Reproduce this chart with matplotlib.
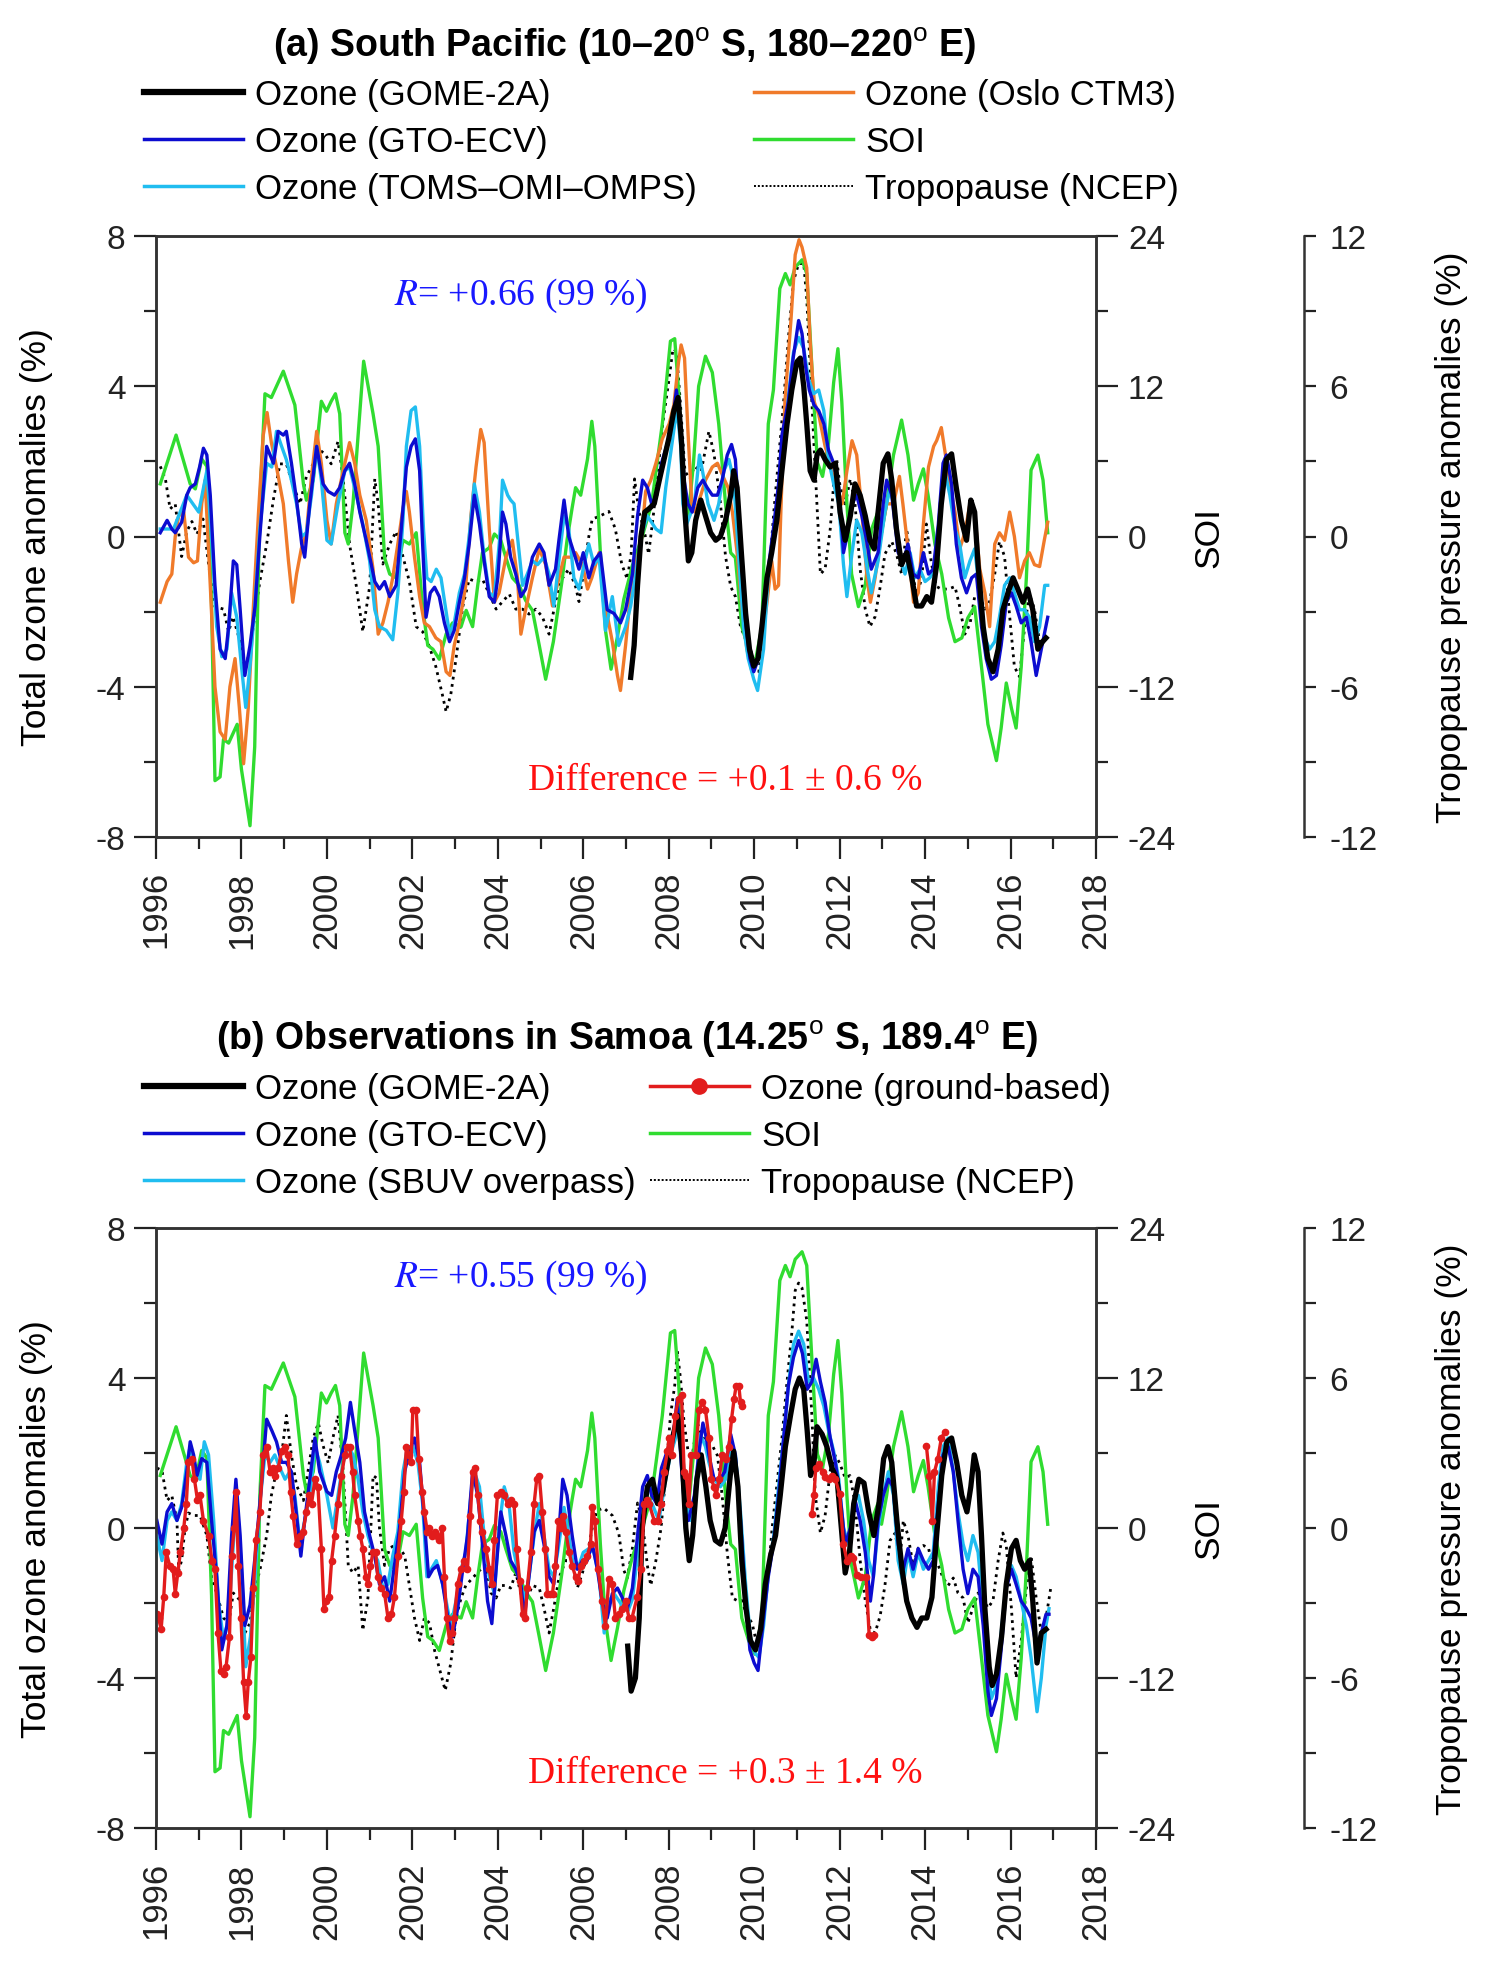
import matplotlib
matplotlib.use("Agg")
import matplotlib.pyplot as plt
import numpy as np
from matplotlib.lines import Line2D
from matplotlib.ticker import MultipleLocator

plt.rcParams["font.family"] = ["Liberation Sans", "DejaVu Sans"]
plt.rcParams["axes.unicode_minus"] = False
plt.rcParams["mathtext.fontset"] = "custom"
plt.rcParams["mathtext.rm"] = "Liberation Sans"
plt.rcParams["mathtext.bf"] = "Liberation Sans:bold"

# ---------------------------------------------------------------- data
# (decimal year, value); ozone in %, SOI in index units, tropopause in %
SOI = [
    (1996.10, 4.2), (1996.47, 8.1), (1996.80, 4.2), (1996.92, 3.8), (1997.07, 6.2), (1997.19, 5.6),
    (1997.30, -5.4), (1997.38, -19.5), (1997.50, -19.2), (1997.58, -16.2), (1997.70, -16.5),
    (1997.90, -15.0), (1998.00, -18.6), (1998.20, -23.1), (1998.31, -16.8), (1998.43, 2.6),
    (1998.55, 11.4), (1998.70, 11.1), (1998.98, 13.2), (1999.25, 10.5), (1999.45, 4.2), (1999.52, 2.9),
    (1999.68, 4.5), (1999.87, 10.8), (1999.99, 10.0), (2000.10, 10.8), (2000.20, 11.4), (2000.30, 9.8),
    (2000.42, 0.3), (2000.50, -0.6), (2000.61, 2.6), (2000.86, 14.0), (2001.08, 9.8), (2001.20, 7.2),
    (2001.35, -1.7), (2001.47, -3.0), (2001.62, -3.3), (2001.78, -0.3), (2001.93, -0.6), (2002.09, 0.3),
    (2002.24, -5.6), (2002.36, -8.7), (2002.48, -9.0), (2002.63, -9.8), (2002.79, -7.8), (2002.94, -6.9),
    (2003.14, -7.2), (2003.26, -5.9), (2003.41, -7.2), (2003.53, -3.9), (2003.64, -1.3), (2003.80, -0.9),
    (2003.92, 0.2), (2004.07, -0.3), (2004.19, -1.7), (2004.34, -3.3), (2004.50, -3.9), (2004.65, -5.1),
    (2004.81, -5.9), (2004.97, -8.7), (2005.12, -11.4), (2005.30, -8.4), (2005.50, -3.6), (2005.62, -0.3),
    (2005.74, 2.3), (2005.82, 3.9), (2005.94, 3.3), (2006.10, 6.2), (2006.20, 9.2), (2006.27, 7.2),
    (2006.40, -1.3), (2006.52, -7.5), (2006.65, -10.6), (2006.80, -8.0), (2006.95, -5.0), (2007.15, -2.3),
    (2007.38, 0.0), (2007.60, 2.6), (2007.85, 9.0), (2008.04, 15.6), (2008.14, 15.8), (2008.23, 11.7),
    (2008.35, 3.9), (2008.46, 1.6), (2008.58, 5.9), (2008.70, 12.0), (2008.86, 14.4), (2009.02, 13.1),
    (2009.17, 9.0), (2009.33, 2.6), (2009.45, -1.3), (2009.56, -1.7), (2009.71, -7.2), (2009.87, -9.0),
    (2010.02, -10.1), (2010.18, -7.2), (2010.33, 9.0), (2010.45, 11.7), (2010.60, 19.8), (2010.73, 21.0),
    (2010.84, 20.1), (2010.96, 21.5), (2011.12, 22.1), (2011.23, 21.0), (2011.37, 12.3), (2011.48, 5.9),
    (2011.60, 4.8), (2011.74, 7.5), (2011.86, 12.3), (2011.96, 15.0), (2012.05, 10.8), (2012.17, 2.6),
    (2012.28, -3.0), (2012.44, -5.6), (2012.60, -3.9), (2012.75, 0.6), (2012.90, 2.0), (2012.98, 0.3),
    (2013.10, 2.6), (2013.26, 6.5), (2013.45, 9.3), (2013.60, 6.5), (2013.73, 2.9), (2013.84, 4.2),
    (2013.96, 5.4), (2014.07, 3.3), (2014.23, -0.6), (2014.39, -3.0), (2014.55, -6.5), (2014.70, -8.4),
    (2014.86, -8.1), (2015.00, -6.5), (2015.16, -5.6), (2015.32, -10.4), (2015.47, -15.0), (2015.67, -17.9),
    (2015.78, -15.3), (2015.90, -11.7), (2016.02, -13.7), (2016.13, -15.3), (2016.25, -10.4), (2016.37, -3.3),
    (2016.48, 5.3), (2016.64, 6.5), (2016.76, 4.5), (2016.87, 0.3),
]

TROP_A = [
    (1996.10, 2.8), (1996.22, 2.3), (1996.33, 1.1), (1996.45, 1.3), (1996.60, -0.8), (1996.72, 0.2),
    (1996.84, 0.6), (1996.96, 0.1), (1997.10, 0.7), (1997.23, -1.1), (1997.38, -2.8), (1997.58, -2.9),
    (1997.70, -3.8), (1997.80, -3.2), (1997.97, -4.2), (1998.08, -5.4), (1998.20, -4.5), (1998.32, -3.1),
    (1998.43, -1.8), (1998.59, -0.3), (1998.75, 1.5), (1998.90, 2.9), (1999.05, 2.9), (1999.20, 2.1),
    (1999.37, 1.3), (1999.52, 2.4), (1999.68, 2.9), (1999.80, 3.5), (1999.95, 3.3), (2000.10, 2.9),
    (2000.26, 3.8), (2000.38, 2.3), (2000.53, -0.3), (2000.69, -2.0), (2000.84, -3.8), (2001.00, -2.0),
    (2001.12, 2.3), (2001.20, 1.3), (2001.31, -1.1), (2001.47, -0.3), (2001.62, 0.2), (2001.78, -0.8),
    (2001.93, -1.8), (2002.09, -3.6), (2002.24, -3.8), (2002.40, -4.4), (2002.55, -5.2), (2002.70, -6.3),
    (2002.79, -7.0), (2002.90, -6.3), (2003.02, -4.9), (2003.18, -2.8), (2003.33, -1.7), (2003.49, -1.8),
    (2003.64, -1.7), (2003.80, -2.3), (2003.96, -2.9), (2004.11, -2.6), (2004.27, -2.3), (2004.42, -2.9),
    (2004.58, -2.9), (2004.73, -3.1), (2004.89, -2.9), (2005.04, -3.2), (2005.20, -3.9), (2005.35, -2.6),
    (2005.50, -1.7), (2005.66, -1.3), (2005.82, -2.0), (2005.90, -2.6), (2006.00, -1.5), (2006.13, 0.0),
    (2006.21, 0.7), (2006.37, 0.8), (2006.60, 1.0), (2006.75, 0.3), (2006.90, -1.1), (2007.03, -1.7),
    (2007.12, -0.7), (2007.20, 2.3), (2007.30, 1.0), (2007.42, 0.3), (2007.53, -0.7), (2007.65, 1.0),
    (2007.86, 4.5), (2008.00, 6.2), (2008.10, 7.5), (2008.18, 7.4), (2008.27, 5.4), (2008.38, 2.6),
    (2008.50, 2.3), (2008.60, 2.8), (2008.76, 2.6), (2008.94, 4.2), (2009.06, 3.3), (2009.20, 1.5),
    (2009.33, -0.8), (2009.45, -2.0), (2009.56, -2.4), (2009.68, -3.6), (2009.80, -4.1), (2009.91, -4.5),
    (2010.03, -5.2), (2010.11, -5.4), (2010.22, -3.6), (2010.34, -1.7), (2010.46, 1.0), (2010.57, 3.1),
    (2010.69, 5.4), (2010.81, 8.1), (2010.92, 10.2), (2011.04, 10.9), (2011.16, 10.9), (2011.23, 9.5),
    (2011.35, 5.4), (2011.47, 1.3), (2011.55, -1.5), (2011.66, -1.3), (2011.78, 0.3), (2011.86, 2.1),
    (2011.93, 3.1), (2012.01, 2.0), (2012.13, 1.3), (2012.25, 2.3), (2012.36, 1.3), (2012.48, -1.3),
    (2012.60, -2.9), (2012.71, -3.6), (2012.83, -3.2), (2012.95, -2.0), (2013.06, -0.7), (2013.22, -0.2),
    (2013.33, -0.7), (2013.45, -1.5), (2013.57, 0.3), (2013.68, -1.3), (2013.80, -2.3), (2013.92, -1.7),
    (2014.03, 0.5), (2014.15, -1.1), (2014.27, -2.0), (2014.38, -2.1), (2014.54, -2.1), (2014.70, -2.0),
    (2014.81, -2.8), (2014.93, -3.9), (2015.05, -3.5), (2015.16, -2.4), (2015.28, -2.4), (2015.40, -2.9),
    (2015.51, -2.6), (2015.63, -1.5), (2015.74, -0.2), (2015.86, -0.8), (2015.98, -3.2), (2016.09, -5.2),
    (2016.21, -5.6), (2016.33, -3.6), (2016.44, -2.3), (2016.56, -2.9), (2016.68, -4.2), (2016.79, -4.1),
]

TROP_B = [
    (1996.02, 2.4), (1996.14, 2.3), (1996.26, 1.1), (1996.37, 1.3), (1996.49, 0.3), (1996.53, -1.7),
    (1996.60, -1.3), (1996.68, 0.0), (1996.76, 0.6), (1996.88, 0.5), (1997.03, 0.5), (1997.19, -0.3),
    (1997.30, -2.0), (1997.42, -2.6), (1997.58, -3.6), (1997.70, -3.8), (1997.81, -2.6), (1997.97, -2.9),
    (1998.08, -4.2), (1998.20, -3.8), (1998.32, -2.4), (1998.43, -1.7), (1998.59, -0.3), (1998.70, 1.3),
    (1998.82, 2.3), (1998.94, 2.9), (1999.05, 4.5), (1999.17, 2.9), (1999.29, 1.7), (1999.45, 1.1),
    (1999.56, 2.3), (1999.68, 3.6), (1999.80, 4.2), (1999.91, 3.3), (2000.03, 2.6), (2000.14, 3.6),
    (2000.26, 4.5), (2000.38, 2.3), (2000.50, -1.5), (2000.61, -1.8), (2000.73, -1.5), (2000.84, -4.1),
    (2000.96, -2.8), (2001.08, 2.1), (2001.16, 2.0), (2001.23, 0.0), (2001.35, -1.5), (2001.47, -0.8),
    (2001.58, -0.7), (2001.70, -0.8), (2001.82, -1.1), (2001.93, -2.3), (2002.05, -3.6), (2002.17, -4.5),
    (2002.28, -3.6), (2002.40, -3.8), (2002.52, -4.9), (2002.63, -5.6), (2002.77, -6.5), (2002.90, -5.4),
    (2003.02, -3.6), (2003.14, -2.8), (2003.25, -2.3), (2003.41, -2.0), (2003.57, -1.7), (2003.72, -1.5),
    (2003.84, -2.6), (2003.96, -2.8), (2004.07, -2.3), (2004.19, -2.3), (2004.30, -2.4), (2004.42, -1.8),
    (2004.58, -2.9), (2004.69, -2.8), (2004.81, -2.3), (2004.97, -2.4), (2005.08, -3.2), (2005.20, -4.2),
    (2005.31, -3.2), (2005.43, -2.0), (2005.59, -1.3), (2005.74, -1.3), (2005.86, -2.4), (2005.98, -1.8),
    (2006.10, -1.0), (2006.21, 0.0), (2006.32, 0.7), (2006.48, 0.8), (2006.68, 0.5), (2006.83, -0.2),
    (2006.95, -1.7), (2007.03, -2.0), (2007.15, -0.8), (2007.27, 1.0), (2007.38, 0.3), (2007.50, -1.5),
    (2007.58, -2.3), (2007.70, -1.3), (2007.82, 0.0), (2007.93, 2.1), (2008.04, 4.5), (2008.14, 5.7),
    (2008.20, 7.1), (2008.28, 5.9), (2008.36, 4.2), (2008.45, 3.1), (2008.55, 2.9), (2008.67, 4.2),
    (2008.80, 3.6), (2008.90, 3.5), (2009.02, 3.3), (2009.14, 2.9), (2009.25, 1.3), (2009.37, -1.0),
    (2009.49, -2.8), (2009.60, -2.9), (2009.71, -2.9), (2009.83, -3.5), (2009.95, -3.8), (2010.07, -4.7),
    (2010.18, -3.9), (2010.30, -2.4), (2010.42, 0.0), (2010.53, 1.7), (2010.65, 3.6), (2010.76, 5.7),
    (2010.88, 7.8), (2010.96, 9.5), (2011.04, 9.8), (2011.12, 9.6), (2011.23, 8.3), (2011.35, 4.5),
    (2011.43, 1.3), (2011.55, -0.2), (2011.66, 0.5), (2011.78, 2.3), (2011.90, 2.9), (2012.00, 2.6),
    (2012.13, 2.0), (2012.24, 2.1), (2012.36, 1.0), (2012.48, -1.3), (2012.60, -2.9), (2012.72, -4.1),
    (2012.83, -4.2), (2012.95, -3.5), (2013.06, -2.3), (2013.18, -0.5), (2013.30, -0.2), (2013.41, -1.3),
    (2013.49, 0.3), (2013.60, -0.3), (2013.72, -1.5), (2013.84, -0.8), (2013.96, -0.7), (2014.08, -0.8),
    (2014.19, -1.7), (2014.31, -1.5), (2014.42, -2.0), (2014.54, -2.3), (2014.66, -2.0), (2014.77, -2.6),
    (2014.89, -2.8), (2015.00, -3.8), (2015.12, -3.2), (2015.24, -2.6), (2015.35, -2.8), (2015.47, -3.2),
    (2015.59, -2.9), (2015.71, -1.3), (2015.82, -0.2), (2015.90, -0.7), (2016.02, -3.2), (2016.13, -6.0),
    (2016.25, -4.5), (2016.37, -2.4), (2016.48, -1.1), (2016.60, -2.8), (2016.72, -4.2), (2016.83, -3.6),
    (2016.95, -2.3),
]

OSLO_A = [
    (1996.10, -1.75), (1996.26, -1.2), (1996.37, -1.0), (1996.45, 0.0), (1996.53, 0.55), (1996.65, 0.65),
    (1996.76, -0.55), (1996.88, -0.7), (1996.97, -0.65), (1997.07, 0.87), (1997.15, 1.5), (1997.27, -1.3),
    (1997.38, -4.0), (1997.50, -5.2), (1997.62, -5.4), (1997.73, -4.0), (1997.85, -3.25), (1997.95, -4.55),
    (1998.05, -6.05), (1998.16, -4.55), (1998.28, -1.85), (1998.40, 0.65), (1998.51, 2.7), (1998.60, 3.3),
    (1998.70, 2.5), (1998.82, 1.85), (1998.98, 0.87), (1999.10, -0.65), (1999.20, -1.75), (1999.29, -1.0),
    (1999.40, -0.33), (1999.52, 0.1), (1999.64, 1.6), (1999.76, 2.8), (1999.87, 1.95), (2000.00, 0.43),
    (2000.10, -0.2), (2000.22, 0.87), (2000.38, 1.75), (2000.53, 2.5), (2000.65, 1.95), (2000.77, 1.1),
    (2000.92, 0.43), (2001.08, -0.87), (2001.20, -2.6), (2001.31, -2.3), (2001.43, -1.75), (2001.54, -1.1),
    (2001.66, -0.2), (2001.78, 0.75), (2001.86, 1.2), (2001.93, 0.65), (2002.05, -0.55), (2002.17, -1.6),
    (2002.28, -2.3), (2002.40, -2.4), (2002.55, -2.7), (2002.67, -2.8), (2002.79, -3.6), (2002.88, -3.7),
    (2002.98, -2.9), (2003.10, -2.3), (2003.25, -1.3), (2003.37, 0.55), (2003.49, 1.85), (2003.60, 2.85),
    (2003.68, 2.5), (2003.80, 0.2), (2003.92, -1.75), (2004.03, -1.5), (2004.19, -0.55), (2004.34, -0.1),
    (2004.46, -1.1), (2004.54, -2.6), (2004.65, -1.95), (2004.81, -1.1), (2004.97, -0.33), (2005.12, -0.75),
    (2005.28, -1.85), (2005.39, -1.3), (2005.55, -0.55), (2005.70, -0.55), (2005.82, -0.43), (2005.98, -0.75),
    (2006.10, -1.4), (2006.20, -1.1), (2006.37, -0.43), (2006.52, -1.85), (2006.68, -2.8), (2006.80, -3.7),
    (2006.87, -4.1), (2006.99, -2.9), (2007.14, -1.1), (2007.35, -0.2), (2007.46, 1.2), (2007.58, 1.5),
    (2007.70, 1.95), (2007.85, 2.6), (2008.01, 3.0), (2008.12, 3.5), (2008.23, 4.65), (2008.29, 5.1),
    (2008.37, 4.75), (2008.45, 2.8), (2008.54, 0.87), (2008.62, 0.65), (2008.75, 1.1), (2008.86, 1.5),
    (2009.02, 1.85), (2009.14, 1.95), (2009.27, 1.6), (2009.39, 1.3), (2009.49, 0.65), (2009.60, -0.43),
    (2009.71, -1.85), (2009.83, -3.0), (2009.95, -3.6), (2010.06, -3.35), (2010.18, -2.8), (2010.29, -1.85),
    (2010.41, -0.65), (2010.49, -1.4), (2010.57, -1.3), (2010.63, 0.87), (2010.72, 3.6), (2010.86, 5.75),
    (2010.96, 7.5), (2011.05, 7.9), (2011.12, 7.7), (2011.23, 7.15), (2011.31, 5.2), (2011.40, 3.6),
    (2011.51, 3.25), (2011.66, 2.4), (2011.78, 1.95), (2011.86, 1.5), (2011.94, 1.3), (2012.06, 0.87),
    (2012.17, 1.75), (2012.29, 2.55), (2012.40, 2.17), (2012.52, 0.65), (2012.64, -1.1), (2012.72, -1.75),
    (2012.83, -1.1), (2012.99, 0.2), (2013.10, 0.87), (2013.26, 0.87), (2013.40, 1.6), (2013.48, 0.87),
    (2013.60, -0.33), (2013.73, -1.75), (2013.84, -1.5), (2013.96, 0.33), (2014.08, 1.85), (2014.20, 2.4),
    (2014.27, 2.55), (2014.38, 2.9), (2014.46, 2.3), (2014.58, 1.4), (2014.70, 0.65), (2014.81, -0.33),
    (2014.93, 0.1), (2015.05, 0.87), (2015.16, 0.65), (2015.28, -0.87), (2015.40, -1.5), (2015.51, -2.4),
    (2015.63, -0.2), (2015.74, 0.1), (2015.86, -0.1), (2015.98, 0.65), (2016.09, 0.0), (2016.21, -1.1),
    (2016.33, -0.65), (2016.44, -0.43), (2016.56, -0.75), (2016.68, -0.8), (2016.79, -0.1), (2016.87, 0.38),
]

GTO_A = [
    (1996.10, 0.1), (1996.26, 0.43), (1996.37, 0.2), (1996.45, 0.1), (1996.60, 0.38), (1996.72, 1.1),
    (1996.80, 1.3), (1996.92, 1.4), (1997.02, 1.85), (1997.11, 2.35), (1997.19, 2.17), (1997.27, 1.1),
    (1997.38, -1.3), (1997.50, -3.0), (1997.62, -3.25), (1997.70, -2.4), (1997.81, -0.65), (1997.89, -0.75),
    (1997.97, -1.95), (1998.08, -3.7), (1998.20, -2.9), (1998.32, -1.85), (1998.43, 0.0), (1998.59, 2.4),
    (1998.67, 2.17), (1998.75, 1.95), (1998.86, 2.8), (1998.98, 2.7), (1999.05, 2.8), (1999.17, 1.95),
    (1999.29, 0.97), (1999.41, -0.2), (1999.48, -0.55), (1999.60, 0.87), (1999.76, 2.4), (1999.91, 1.4),
    (2000.03, 1.2), (2000.18, 1.1), (2000.30, 1.3), (2000.42, 1.75), (2000.53, 1.95), (2000.65, 1.4),
    (2000.77, 0.65), (2000.92, -0.1), (2001.04, -0.75), (2001.12, -1.2), (2001.23, -1.4), (2001.35, -1.2),
    (2001.47, -1.6), (2001.62, -1.3), (2001.74, 0.2), (2001.86, 1.85), (2001.97, 2.4), (2002.07, 2.6),
    (2002.17, 1.75), (2002.24, -0.2), (2002.32, -2.15), (2002.42, -1.5), (2002.52, -1.35), (2002.63, -1.6),
    (2002.75, -2.3), (2002.87, -2.8), (2002.98, -2.5), (2003.10, -1.75), (2003.22, -1.1), (2003.33, -0.2),
    (2003.45, 1.1), (2003.57, 0.33), (2003.68, -0.65), (2003.80, -1.6), (2003.92, -1.75), (2004.00, -1.1),
    (2004.11, 0.65), (2004.19, 0.33), (2004.30, -0.55), (2004.42, -1.0), (2004.54, -1.6), (2004.65, -1.4),
    (2004.81, -0.55), (2004.97, -0.2), (2005.08, -0.43), (2005.20, -1.3), (2005.35, -0.87), (2005.43, -0.1),
    (2005.55, 0.97), (2005.66, 0.0), (2005.78, -0.43), (2005.90, -0.87), (2006.00, -0.43), (2006.13, -1.1),
    (2006.25, -0.65), (2006.40, -0.43), (2006.56, -1.95), (2006.72, -2.05), (2006.87, -2.3), (2006.99, -1.95),
    (2007.15, -1.0), (2007.27, 0.55), (2007.39, 1.5), (2007.50, 1.3), (2007.60, 0.87), (2007.72, 1.1),
    (2007.83, 1.95), (2008.00, 2.6), (2008.12, 3.35), (2008.18, 3.9), (2008.27, 3.0), (2008.36, 1.5),
    (2008.45, 0.87), (2008.55, 0.65), (2008.68, 1.3), (2008.80, 1.5), (2008.90, 1.3), (2009.02, 1.1),
    (2009.14, 1.1), (2009.25, 1.5), (2009.37, 2.17), (2009.47, 2.45), (2009.56, 2.05), (2009.68, -0.2),
    (2009.80, -2.3), (2009.90, -3.25), (2009.99, -3.6), (2010.10, -3.25), (2010.20, -2.15), (2010.34, -0.75),
    (2010.45, 0.2), (2010.57, 1.4), (2010.65, 2.7), (2010.80, 3.6), (2010.90, 4.65), (2011.04, 5.75),
    (2011.12, 5.4), (2011.20, 4.55), (2011.29, 3.9), (2011.40, 3.5), (2011.51, 3.35), (2011.63, 3.0),
    (2011.74, 2.3), (2011.86, 1.95), (2011.98, 1.3), (2012.09, -0.43), (2012.17, 0.0), (2012.29, 0.87),
    (2012.40, 1.1), (2012.52, 0.55), (2012.63, -0.1), (2012.74, -0.87), (2012.90, -0.43), (2013.02, 0.87),
    (2013.10, 1.5), (2013.22, 1.1), (2013.37, -0.43), (2013.49, -0.65), (2013.60, -0.2), (2013.72, -1.0),
    (2013.84, -1.1), (2013.96, -0.43), (2014.08, -1.0), (2014.19, -0.87), (2014.31, 0.33), (2014.42, 1.95),
    (2014.50, 2.17), (2014.62, 1.4), (2014.73, -0.2), (2014.85, -1.1), (2014.97, -1.5), (2015.09, -1.1),
    (2015.20, -1.0), (2015.32, -2.4), (2015.43, -3.25), (2015.55, -3.8), (2015.67, -3.7), (2015.78, -2.9),
    (2015.90, -1.75), (2016.02, -1.5), (2016.13, -1.85), (2016.25, -2.3), (2016.37, -2.15), (2016.48, -2.8),
    (2016.60, -3.7), (2016.72, -3.0), (2016.87, -2.15),
]

TOMS_A = [
    (1996.10, 0.2), (1996.41, 0.2), (1996.72, 1.1), (1997.00, 0.65), (1997.19, 1.75), (1997.31, -0.2),
    (1997.42, -2.4), (1997.54, -3.2), (1997.66, -3.0), (1997.77, -1.5), (1997.89, -2.15), (1998.00, -3.45),
    (1998.10, -4.55), (1998.20, -3.45), (1998.32, -1.75), (1998.43, 0.2), (1998.59, 1.95), (1998.71, 1.85),
    (1998.82, 2.8), (1998.94, 2.4), (1999.05, 2.05), (1999.17, 1.5), (1999.29, 0.87), (1999.41, 0.0),
    (1999.52, 0.1), (1999.64, 1.1), (1999.76, 2.4), (1999.87, 1.5), (2000.00, -0.1), (2000.10, -0.2),
    (2000.26, 0.87), (2000.42, 1.75), (2000.53, 1.85), (2000.69, 1.1), (2000.84, 0.33), (2001.00, -0.65),
    (2001.12, -1.95), (2001.23, -2.4), (2001.39, -2.5), (2001.54, -2.75), (2001.66, -1.5), (2001.78, 0.43),
    (2001.86, 2.4), (2001.97, 3.35), (2002.07, 3.45), (2002.17, 2.4), (2002.26, 0.2), (2002.34, -1.1),
    (2002.44, -1.2), (2002.56, -0.87), (2002.67, -1.1), (2002.77, -1.85), (2002.87, -2.6), (2002.98, -2.3),
    (2003.10, -1.5), (2003.22, -1.0), (2003.33, 0.0), (2003.45, 1.4), (2003.57, 0.65), (2003.68, -0.55),
    (2003.80, -1.5), (2003.92, -1.6), (2004.04, -0.1), (2004.11, 1.5), (2004.23, 1.1), (2004.30, 0.97),
    (2004.38, 0.87), (2004.46, 0.0), (2004.58, -1.3), (2004.69, -1.0), (2004.81, -0.65), (2004.93, -0.75),
    (2005.08, -0.55), (2005.20, -1.0), (2005.31, -1.85), (2005.43, -0.65), (2005.55, 0.55), (2005.66, 0.2),
    (2005.78, -1.1), (2005.90, -1.4), (2006.02, -0.75), (2006.13, -0.2), (2006.25, -0.75), (2006.37, -0.55),
    (2006.52, -2.5), (2006.68, -1.6), (2006.83, -2.9), (2006.99, -2.4), (2007.11, -1.85), (2007.23, -1.0),
    (2007.35, 0.0), (2007.50, 0.55), (2007.70, 0.2), (2007.82, 0.1), (2007.93, 1.3), (2008.04, 2.17),
    (2008.14, 3.0), (2008.20, 3.35), (2008.28, 2.4), (2008.33, 0.87), (2008.42, 0.33), (2008.60, 0.87),
    (2008.72, 2.17), (2008.83, 1.5), (2008.92, 0.87), (2009.06, 0.43), (2009.17, 0.87), (2009.29, 1.75),
    (2009.41, 2.05), (2009.52, 1.5), (2009.63, -0.43), (2009.75, -2.4), (2009.86, -3.25), (2009.99, -3.8),
    (2010.08, -4.1), (2010.22, -3.0), (2010.33, -1.0), (2010.46, 0.2), (2010.57, 1.2), (2010.69, 2.4),
    (2010.80, 3.7), (2010.92, 4.9), (2011.04, 5.3), (2011.16, 5.0), (2011.27, 4.2), (2011.39, 3.8),
    (2011.51, 3.9), (2011.63, 3.35), (2011.74, 2.05), (2011.86, 1.4), (2011.98, 0.87), (2012.09, -0.75),
    (2012.17, -1.6), (2012.29, -0.43), (2012.40, 0.43), (2012.52, 0.1), (2012.63, -0.75), (2012.74, -1.5),
    (2012.90, -0.65), (2013.06, 0.65), (2013.18, 1.3), (2013.30, 0.65), (2013.41, -0.55), (2013.53, -1.0),
    (2013.65, -0.43), (2013.76, -1.1), (2013.88, -0.87), (2014.00, -1.2), (2014.11, -1.1), (2014.23, -0.87),
    (2014.35, 0.65), (2014.46, 1.75), (2014.58, 1.1), (2014.70, 0.2), (2014.81, -0.2), (2014.93, -1.1),
    (2015.05, -0.65), (2015.16, -0.33), (2015.28, -1.5), (2015.40, -2.7), (2015.51, -3.0), (2015.63, -2.8),
    (2015.74, -2.15), (2015.86, -1.3), (2015.98, -1.1), (2016.09, -1.5), (2016.21, -1.95), (2016.33, -1.95),
    (2016.44, -2.15), (2016.56, -2.8), (2016.68, -2.4), (2016.80, -1.3), (2016.87, -1.3),
]

GOME_A = [
    (2007.11, -3.75), (2007.19, -2.9), (2007.27, -1.3), (2007.35, 0.0), (2007.44, 0.65), (2007.55, 0.75),
    (2007.66, 0.87), (2007.78, 1.5), (2007.89, 2.05), (2008.00, 2.6), (2008.12, 3.35), (2008.22, 3.7),
    (2008.30, 2.5), (2008.38, 0.65), (2008.46, -0.65), (2008.54, -0.43), (2008.63, 0.43), (2008.75, 0.97),
    (2008.86, 0.55), (2008.98, 0.1), (2009.10, -0.1), (2009.21, 0.0), (2009.33, 0.43), (2009.45, 1.1),
    (2009.52, 1.75), (2009.60, 1.3), (2009.70, -0.43), (2009.80, -2.05), (2009.89, -3.0), (2009.99, -3.45),
    (2010.09, -3.25), (2010.18, -2.4), (2010.30, -1.1), (2010.41, -0.43), (2010.53, 0.43), (2010.65, 1.75),
    (2010.77, 3.0), (2010.88, 3.9), (2011.00, 4.65), (2011.08, 4.75), (2011.16, 4.0), (2011.23, 3.0),
    (2011.31, 1.75), (2011.40, 1.5), (2011.47, 2.17), (2011.55, 2.3), (2011.66, 2.05), (2011.78, 1.85),
    (2011.90, 1.95), (2012.01, 0.65), (2012.13, -0.1), (2012.25, 0.55), (2012.36, 1.4), (2012.48, 1.1),
    (2012.60, 0.55), (2012.71, -0.1), (2012.81, -0.33), (2012.90, 0.65), (2013.02, 1.95), (2013.13, 2.2),
    (2013.22, 1.5), (2013.33, 0.2), (2013.45, -0.75), (2013.57, -0.43), (2013.69, -1.1), (2013.80, -1.85),
    (2013.92, -1.85), (2014.04, -1.6), (2014.15, -1.75), (2014.27, -0.75), (2014.38, 0.87), (2014.50, 2.05),
    (2014.62, 2.2), (2014.73, 1.3), (2014.85, 0.43), (2014.97, -0.1), (2015.07, 0.97), (2015.16, 0.65),
    (2015.24, -0.75), (2015.36, -2.4), (2015.47, -3.25), (2015.59, -3.6), (2015.71, -3.0), (2015.82, -1.95),
    (2015.94, -1.5), (2016.06, -1.1), (2016.17, -1.4), (2016.29, -1.75), (2016.40, -1.4), (2016.52, -1.95),
    (2016.64, -3.0), (2016.75, -2.8), (2016.83, -2.7),
]

GTO_B = [
    (1996.02, 0.2), (1996.14, -0.43), (1996.26, 0.43), (1996.37, 0.65), (1996.49, 0.2), (1996.60, 0.55),
    (1996.72, 1.5), (1996.80, 2.3), (1996.88, 1.95), (1996.96, 1.4), (1997.07, 1.85), (1997.19, 1.75),
    (1997.30, 0.2), (1997.42, -1.3), (1997.54, -3.25), (1997.66, -2.6), (1997.77, -0.2), (1997.87, 1.3),
    (1997.97, -0.2), (1998.08, -2.6), (1998.20, -2.05), (1998.32, -0.75), (1998.43, 0.65), (1998.59, 2.9),
    (1998.71, 2.6), (1998.82, 2.3), (1998.94, 1.75), (1999.05, 1.75), (1999.17, 1.5), (1999.29, 0.33),
    (1999.39, -0.75), (1999.48, 0.2), (1999.60, 1.3), (1999.72, 2.4), (1999.83, 1.5), (2000.00, 0.97),
    (2000.11, 0.87), (2000.22, 1.5), (2000.34, 1.95), (2000.44, 2.4), (2000.55, 3.35), (2000.65, 2.6),
    (2000.77, 1.75), (2000.88, 0.43), (2001.00, -0.2), (2001.12, -0.75), (2001.23, -1.5), (2001.35, -1.3),
    (2001.47, -1.95), (2001.58, -1.0), (2001.70, 0.0), (2001.82, 1.5), (2001.93, 2.05), (2002.05, 2.4),
    (2002.17, 1.75), (2002.28, 0.2), (2002.38, -1.3), (2002.48, -1.1), (2002.59, -1.0), (2002.71, -1.5),
    (2002.83, -2.4), (2002.94, -2.9), (2003.06, -2.15), (2003.18, -1.1), (2003.29, -0.2), (2003.41, 1.5),
    (2003.53, 0.87), (2003.64, -0.43), (2003.76, -1.95), (2003.86, -2.55), (2003.96, -1.1), (2004.07, 0.43),
    (2004.19, -0.2), (2004.30, -0.87), (2004.42, -1.1), (2004.54, -1.5), (2004.62, -2.4), (2004.73, -1.3),
    (2004.85, -0.1), (2004.97, 0.2), (2005.08, -0.43), (2005.20, -1.3), (2005.31, -1.5), (2005.43, -0.1),
    (2005.52, 1.3), (2005.62, 0.87), (2005.74, -0.2), (2005.86, -1.1), (2005.98, -0.87), (2006.09, -0.87),
    (2006.21, -0.43), (2006.33, -1.1), (2006.44, -1.95), (2006.56, -2.4), (2006.68, -1.75), (2006.80, -1.6),
    (2006.91, -1.85), (2007.03, -2.15), (2007.15, -1.6), (2007.27, -0.2), (2007.39, 1.1), (2007.50, 1.4),
    (2007.60, 0.87), (2007.72, 0.65), (2007.83, 1.6), (2008.00, 2.17), (2008.12, 2.6), (2008.20, 3.45),
    (2008.29, 1.75), (2008.38, 0.43), (2008.46, 0.2), (2008.60, 0.87), (2008.70, 1.95), (2008.80, 2.8),
    (2008.88, 2.4), (2008.94, 1.95), (2009.06, 1.3), (2009.20, 1.3), (2009.31, 1.5), (2009.45, 2.5),
    (2009.56, 1.95), (2009.68, 0.2), (2009.80, -1.95), (2009.90, -3.25), (2010.00, -3.6), (2010.09, -3.8),
    (2010.20, -2.6), (2010.33, -1.3), (2010.45, -0.43), (2010.57, 0.87), (2010.69, 2.4), (2010.80, 3.8),
    (2010.92, 4.55), (2011.04, 5.0), (2011.13, 4.65), (2011.24, 3.7), (2011.35, 3.9), (2011.45, 4.5),
    (2011.55, 3.9), (2011.66, 3.35), (2011.78, 2.4), (2011.90, 1.75), (2012.01, 0.87), (2012.13, -0.43),
    (2012.25, 0.0), (2012.36, 0.75), (2012.48, 0.2), (2012.60, -0.65), (2012.72, -1.95), (2012.79, -1.3),
    (2012.90, 0.2), (2013.02, 0.87), (2013.14, 1.3), (2013.25, 1.1), (2013.37, -0.43), (2013.49, -1.1),
    (2013.60, -0.55), (2013.72, -1.1), (2013.84, -0.55), (2013.96, -0.87), (2014.08, -1.1), (2014.19, -0.87),
    (2014.31, 0.65), (2014.42, 1.95), (2014.54, 2.17), (2014.66, 1.5), (2014.77, 0.2), (2014.89, -1.1),
    (2015.00, -1.75), (2015.12, -1.1), (2015.24, -1.3), (2015.36, -2.6), (2015.47, -4.35), (2015.55, -5.0),
    (2015.67, -4.55), (2015.78, -3.25), (2015.90, -1.6), (2016.02, -1.1), (2016.13, -1.5), (2016.25, -1.95),
    (2016.37, -2.15), (2016.48, -2.4), (2016.60, -3.15), (2016.72, -2.8), (2016.83, -2.3), (2016.90, -2.3),
]

SBUV_B = [
    (1996.02, -0.2), (1996.14, -0.87), (1996.26, 0.2), (1996.37, 0.43), (1996.49, 0.2), (1996.60, 0.65),
    (1996.72, 1.75), (1996.80, 2.17), (1996.92, 1.5), (1997.03, 1.3), (1997.13, 2.3), (1997.23, 1.95),
    (1997.35, 0.2), (1997.46, -1.95), (1997.58, -3.0), (1997.70, -2.4), (1997.81, -0.43), (1997.89, 0.87),
    (1998.00, -1.1), (1998.10, -3.7), (1998.21, -2.9), (1998.32, -1.3), (1998.43, 0.65), (1998.55, 1.95),
    (1998.67, 1.75), (1998.78, 1.95), (1998.90, 1.6), (1999.02, 1.3), (1999.13, 1.5), (1999.25, 0.87),
    (1999.37, -0.43), (1999.48, 0.2), (1999.60, 0.87), (1999.72, 2.17), (1999.83, 1.75), (2000.00, 0.87),
    (2000.14, 0.0), (2000.26, 0.87), (2000.38, 1.75), (2000.50, 2.17), (2000.61, 1.95), (2000.73, 1.3),
    (2000.84, 0.43), (2000.96, -0.2), (2001.08, -0.65), (2001.19, -0.87), (2001.31, -1.6), (2001.43, -1.5),
    (2001.54, -0.75), (2001.66, -0.1), (2001.78, 1.5), (2001.89, 2.17), (2002.01, 2.17), (2002.13, 1.75),
    (2002.24, 0.65), (2002.34, -1.3), (2002.44, -1.1), (2002.56, -0.87), (2002.67, -1.3), (2002.79, -1.95),
    (2002.90, -2.6), (2003.02, -1.95), (2003.14, -1.1), (2003.25, -0.65), (2003.37, 0.87), (2003.45, 1.5),
    (2003.57, 1.1), (2003.68, -0.2), (2003.80, -1.3), (2003.92, -1.75), (2004.03, 0.0), (2004.15, 1.1),
    (2004.26, 0.65), (2004.38, -0.65), (2004.50, -1.3), (2004.62, -1.95), (2004.73, -1.3), (2004.85, -0.2),
    (2004.97, 0.65), (2005.08, -0.2), (2005.20, -1.1), (2005.31, -1.3), (2005.43, -0.43), (2005.55, 0.55),
    (2005.66, -0.2), (2005.78, -1.1), (2005.90, -1.0), (2006.00, -0.65), (2006.13, -0.55), (2006.25, -0.65),
    (2006.37, -1.3), (2006.49, -2.8), (2006.60, -1.95), (2006.72, -1.75), (2006.84, -1.95), (2006.95, -2.15),
    (2007.05, -2.2), (2007.15, -1.9), (2007.30, -0.43), (2007.46, 0.87), (2007.61, 0.65), (2007.77, 0.2),
    (2007.93, 1.3), (2008.04, 1.95), (2008.16, 2.4), (2008.22, 3.0), (2008.30, 1.95), (2008.40, 0.65),
    (2008.51, 0.2), (2008.63, 0.87), (2008.74, 2.5), (2008.86, 2.17), (2008.94, 1.75), (2009.06, 1.3),
    (2009.21, 1.1), (2009.33, 1.3), (2009.45, 2.17), (2009.56, 1.95), (2009.68, 0.43), (2009.80, -1.5),
    (2009.91, -2.9), (2010.03, -3.35), (2010.11, -3.45), (2010.22, -2.6), (2010.34, -1.1), (2010.46, -0.2),
    (2010.57, 1.1), (2010.69, 2.4), (2010.81, 3.9), (2010.92, 4.9), (2011.04, 5.25), (2011.16, 4.9),
    (2011.27, 3.9), (2011.39, 4.0), (2011.51, 3.7), (2011.63, 3.25), (2011.74, 2.6), (2011.86, 2.05),
    (2011.98, 1.3), (2012.09, 0.0), (2012.21, -0.43), (2012.32, 0.65), (2012.44, 0.87), (2012.56, 0.2),
    (2012.68, -0.87), (2012.79, -1.3), (2012.90, 0.0), (2013.02, 0.87), (2013.14, 1.5), (2013.26, 0.87),
    (2013.37, -0.87), (2013.49, -1.5), (2013.60, -0.65), (2013.72, -1.3), (2013.84, -0.65), (2013.96, -1.1),
    (2014.08, -0.87), (2014.19, -0.65), (2014.31, 1.1), (2014.42, 2.17), (2014.54, 2.4), (2014.66, 1.5),
    (2014.77, 0.43), (2014.89, -0.43), (2015.00, -0.87), (2015.12, -0.2), (2015.24, -0.65), (2015.36, -2.15),
    (2015.47, -3.7), (2015.55, -4.55), (2015.67, -4.2), (2015.78, -2.8), (2015.90, -1.5), (2016.02, -1.0),
    (2016.13, -1.3), (2016.25, -1.95), (2016.37, -2.6), (2016.48, -3.45), (2016.62, -4.9), (2016.72, -4.0),
    (2016.83, -2.6), (2016.90, -2.15),
]

GOME_B = [
    (2007.04, -3.15), (2007.12, -4.35), (2007.22, -4.0), (2007.31, -2.4), (2007.38, 0.0), (2007.50, 1.1),
    (2007.62, 1.3), (2007.74, 0.65), (2007.86, 0.97), (2007.98, 1.75), (2008.09, 2.4), (2008.21, 3.0),
    (2008.31, 1.95), (2008.40, 0.0), (2008.48, -0.87), (2008.56, -0.2), (2008.66, 1.3), (2008.76, 1.95),
    (2008.87, 1.1), (2008.97, 0.2), (2009.09, -0.33), (2009.21, -0.43), (2009.32, 0.0), (2009.44, 1.4),
    (2009.52, 2.05), (2009.62, 1.1), (2009.71, -0.87), (2009.81, -2.15), (2009.91, -3.0), (2010.03, -3.25),
    (2010.15, -2.7), (2010.26, -1.5), (2010.38, -0.75), (2010.50, -0.2), (2010.61, 0.87), (2010.73, 2.17),
    (2010.85, 3.0), (2010.96, 3.7), (2011.06, 4.0), (2011.16, 3.7), (2011.24, 2.6), (2011.32, 1.4),
    (2011.40, 1.75), (2011.47, 2.7), (2011.59, 2.5), (2011.70, 2.17), (2011.82, 1.6), (2011.94, 1.3),
    (2012.04, 0.0), (2012.13, -1.2), (2012.23, -0.65), (2012.33, 0.65), (2012.45, 1.3), (2012.57, 1.2),
    (2012.68, 0.43), (2012.80, -0.2), (2012.92, 0.65), (2013.03, 1.85), (2013.13, 2.17), (2013.22, 1.75),
    (2013.34, 0.2), (2013.46, -1.1), (2013.57, -1.95), (2013.69, -2.4), (2013.81, -2.65), (2013.92, -2.4),
    (2014.04, -2.4), (2014.16, -1.85), (2014.27, -0.2), (2014.39, 1.4), (2014.51, 2.3), (2014.62, 2.4),
    (2014.74, 1.75), (2014.86, 0.87), (2014.98, 0.43), (2015.07, 1.1), (2015.15, 1.95), (2015.24, 1.5),
    (2015.32, -0.2), (2015.40, -2.15), (2015.50, -3.7), (2015.57, -4.2), (2015.67, -3.9), (2015.79, -2.9),
    (2015.90, -1.5), (2016.02, -0.55), (2016.13, -0.33), (2016.23, -0.87), (2016.33, -1.1), (2016.44, -0.87),
    (2016.52, -1.95), (2016.62, -3.6), (2016.72, -2.8), (2016.83, -2.7),
]

# Samoa ground-based record, three separate stretches
GROUND_1 = [
    (1996.02, -2.3), (1996.06, -2.4), (1996.12, -2.7), (1996.18, -1.85), (1996.24, -0.65), (1996.32, -1.0),
    (1996.40, -1.1), (1996.45, -1.75), (1996.51, -1.2), (1996.57, -0.65), (1996.65, 0.0), (1996.71, 0.65),
    (1996.76, 1.75), (1996.84, 1.85), (1996.90, 1.3), (1996.97, 0.75), (1997.03, 0.87), (1997.11, 0.2),
    (1997.23, -0.2), (1997.31, -0.87), (1997.38, -1.1), (1997.45, -2.8), (1997.52, -3.8), (1997.58, -3.9),
    (1997.64, -3.7), (1997.72, -2.9), (1997.77, -0.75), (1997.83, 0.0), (1997.87, 0.97), (1997.93, -1.0),
    (1997.99, -2.4), (1998.05, -4.1), (1998.11, -5.0), (1998.16, -4.1), (1998.22, -3.45), (1998.28, -1.6),
    (1998.34, -0.33), (1998.43, 0.43), (1998.51, 1.95), (1998.59, 2.17), (1998.67, 1.5), (1998.73, 1.6),
    (1998.78, 1.4), (1998.86, 1.6), (1998.94, 2.05), (1999.02, 2.17), (1999.09, 1.95), (1999.15, 0.97),
    (1999.21, 0.33), (1999.29, -0.43), (1999.37, -0.2), (1999.44, -0.1), (1999.52, 0.43), (1999.58, 0.87),
    (1999.64, 0.65), (1999.72, 1.3), (1999.79, 1.1), (1999.87, -0.55), (1999.93, -2.15), (1999.99, -1.95),
    (2000.05, -1.85), (2000.11, -0.87), (2000.18, -0.2), (2000.26, 0.65), (2000.34, 1.4), (2000.42, 1.95),
    (2000.47, 2.17), (2000.53, 2.17), (2000.60, 1.5), (2000.65, 0.87), (2000.73, 0.2), (2000.78, -0.2),
    (2000.84, -0.55), (2000.91, -1.3), (2000.96, -1.5), (2001.02, -1.0), (2001.08, -0.65), (2001.14, -0.65),
    (2001.19, -1.3), (2001.27, -1.6), (2001.35, -1.75), (2001.43, -2.4), (2001.51, -2.3), (2001.58, -1.85),
    (2001.66, -0.75), (2001.74, 0.2), (2001.80, 0.97), (2001.86, 2.17), (2001.92, 1.95), (2001.97, 1.75),
    (2002.01, 3.15), (2002.09, 3.15), (2002.15, 1.85), (2002.23, 0.97), (2002.28, 0.43), (2002.35, -0.1),
    (2002.40, 0.0), (2002.46, -0.2), (2002.52, -0.1), (2002.58, -0.2), (2002.63, -0.33), (2002.70, 0.0),
    (2002.75, -1.3), (2002.80, -2.4), (2002.87, -3.0), (2002.93, -2.8), (2002.98, -2.4), (2003.06, -1.5),
    (2003.14, -1.1), (2003.22, -0.87), (2003.29, -1.1), (2003.36, 0.33), (2003.41, 1.5), (2003.47, 1.6),
    (2003.53, 0.87), (2003.59, 0.2), (2003.64, -0.1), (2003.72, -0.55), (2003.80, -1.1), (2003.86, -1.5),
    (2003.92, -0.33), (2003.99, 0.87), (2004.07, 0.97), (2004.15, 0.87), (2004.23, 0.65), (2004.30, 0.75),
    (2004.38, 0.65), (2004.44, -0.55), (2004.51, -1.4), (2004.58, -2.3), (2004.64, -2.4), (2004.69, -1.6),
    (2004.77, -0.65), (2004.85, 0.65), (2004.91, 1.3), (2004.97, 1.4), (2005.04, 0.43), (2005.11, -0.55),
    (2005.16, -1.75), (2005.22, -1.75), (2005.28, -1.75), (2005.35, -1.0), (2005.42, 0.2), (2005.47, 0.0),
    (2005.53, 0.33), (2005.59, -0.1), (2005.67, -0.65), (2005.74, -1.0), (2005.82, -1.3), (2005.88, -1.4),
    (2005.94, -1.0), (2006.02, -0.87), (2006.09, -0.75), (2006.17, -0.43), (2006.21, 0.55), (2006.27, 0.2),
    (2006.35, -1.1), (2006.44, -1.95), (2006.52, -2.6), (2006.60, -1.35), (2006.68, -1.5), (2006.75, -2.4),
    (2006.83, -2.3), (2006.91, -2.15), (2006.99, -1.95), (2007.07, -2.4), (2007.14, -2.4), (2007.26, -1.85),
    (2007.35, -1.1), (2007.43, 0.65), (2007.50, 0.75), (2007.54, 0.65), (2007.66, 0.2), (2007.74, 0.2),
    (2007.82, 0.65), (2007.89, 1.5), (2007.97, 2.05), (2008.01, 2.4), (2008.07, 1.95), (2008.15, 3.0),
    (2008.23, 3.45), (2008.30, 3.55), (2008.36, 1.5), (2008.41, 1.4), (2008.47, 0.65), (2008.53, 1.95),
    (2008.63, 1.95), (2008.71, 3.15), (2008.79, 3.35), (2008.86, 3.15), (2008.94, 2.4), (2009.00, 1.3),
    (2009.06, 1.1), (2009.11, 0.87), (2009.18, 1.3), (2009.25, 1.95), (2009.35, 1.85), (2009.41, 2.17),
    (2009.47, 2.9), (2009.53, 3.45), (2009.58, 3.8), (2009.64, 3.8), (2009.68, 3.35), (2009.72, 3.25),
]
GROUND_2 = [
    (2011.35, 0.38), (2011.40, 0.87), (2011.44, 1.6), (2011.52, 1.7), (2011.60, 1.5), (2011.66, 1.35),
    (2011.74, 1.3), (2011.82, 1.4), (2011.90, 1.3), (2012.00, 0.9), (2012.09, -0.43), (2012.17, -0.87),
    (2012.26, -0.75), (2012.32, -0.8), (2012.40, -1.25), (2012.50, -1.3), (2012.62, -1.3), (2012.69, -2.85),
    (2012.75, -2.9), (2012.81, -2.85),
]
GROUND_3 = [
    (2014.03, 2.2), (2014.10, 1.4), (2014.17, 0.2), (2014.22, 1.5), (2014.30, 1.85), (2014.38, 2.4),
    (2014.46, 2.55),
]

TITLE_A = "(a) South Pacific (10–20$^{\\rm o}$ S, 180–220$^{\\rm o}$ E)"
TITLE_B = "(b) Observations in Samoa (14.25$^{\\rm o}$ S, 189.4$^{\\rm o}$ E)"
R_TEXT = ["$R$= +0.66 (99 %)", "$R$= +0.55 (99 %)"]
DIFF_TEXT = ["Difference = +0.1 ± 0.6 %", "Difference = +0.3 ± 1.4 %"]

C_GOME = "black"
C_GTO = "#0c0cd0"
C_TOMS = "#20bdf0"
C_OSLO = "#f07a2a"
C_SOI = "#30dc30"
C_GROUND = "#e21c1c"

W, H = 1489, 1965


def xy(pairs):
    a = np.asarray(pairs, dtype=float)
    return a[:, 0], a[:, 1]


def fx(px):
    return px / W


def fy(py):
    return 1 - py / H


fig = plt.figure(figsize=(W / 100, H / 100), dpi=100)


def make_panel(top_px, bottom_px):
    left_px, right_px = 156, 1096
    ax = fig.add_axes([fx(left_px), fy(bottom_px), (right_px - left_px) / W,
                       (bottom_px - top_px) / H])
    ax2 = ax.twinx()
    ax3 = ax.twinx()
    ax.set_zorder(3)
    ax2.set_zorder(2)
    ax3.set_zorder(1)
    for a in (ax, ax2, ax3):
        a.patch.set_visible(False)

    ax.set_xlim(1996, 2018)
    ax.set_ylim(-8, 8)
    ax2.set_ylim(-24, 24)
    ax3.set_ylim(-12, 12)

    ax.xaxis.set_major_locator(MultipleLocator(2))
    ax.xaxis.set_minor_locator(MultipleLocator(1))
    ax.yaxis.set_major_locator(MultipleLocator(4))
    ax.yaxis.set_minor_locator(MultipleLocator(2))
    ax2.yaxis.set_major_locator(MultipleLocator(12))
    ax2.yaxis.set_minor_locator(MultipleLocator(6))
    ax3.yaxis.set_major_locator(MultipleLocator(6))
    ax3.yaxis.set_minor_locator(MultipleLocator(3))

    for a in (ax, ax2):
        a.tick_params(which="major", direction="out", length=16, width=1.6,
                      labelsize=24, colors="#222222")
        a.tick_params(which="minor", direction="out", length=8.5, width=1.6,
                      colors="#222222")
        for s in a.spines.values():
            s.set_linewidth(1.8)
            s.set_color("#333333")
    ax.tick_params(axis="x", which="major", labelrotation=90, pad=8, labelsize=25)
    ax.tick_params(axis="y", which="major", pad=6)
    ax2.tick_params(axis="y", which="major", pad=7)

    for name in ("left", "top", "bottom"):
        ax3.spines[name].set_visible(False)
    ax3.spines["right"].set_position(("axes", 1 + 208 / 940))
    ax3.spines["right"].set_linewidth(1.8)
    ax3.spines["right"].set_color("#333333")
    ax3.tick_params(which="both", direction="out", length=8.5, width=1.6,
                    labelsize=24, pad=10, colors="#222222")

    yc = fy((top_px + bottom_px) / 2)
    fig.text(fx(37), yc, "Total ozone anomalies (%)", rotation=90,
             ha="center", va="center", fontsize=25.5)
    fig.text(fx(1209), yc, "SOI", rotation=90, ha="center", va="center",
             fontsize=25.5)
    fig.text(fx(1451), yc, "Tropopause pressure anomalies (%)", rotation=90,
             ha="center", va="center", fontsize=25.5)
    return ax, ax2, ax3


def legend(handles, labels, x_px, top_px):
    fig.legend(handles, labels, loc="upper left",
               bbox_to_anchor=(fx(x_px), fy(top_px)), bbox_transform=fig.transFigure,
               frameon=False, fontsize=25, handlelength=2.85, handletextpad=0.35,
               labelspacing=0.4, borderpad=0, borderaxespad=0)


h_gome = Line2D([], [], color=C_GOME, lw=4.5)
h_gto = Line2D([], [], color=C_GTO, lw=2.5)
h_toms = Line2D([], [], color=C_TOMS, lw=2.5)
h_oslo = Line2D([], [], color=C_OSLO, lw=2.5)
h_soi = Line2D([], [], color=C_SOI, lw=2.5)
h_trop = Line2D([], [], color="black", lw=1.4, ls=(0, (1, 1)))
h_ground = Line2D([], [], color=C_GROUND, lw=2.5, marker="o", markersize=11)

# ---------------------------------------------------------------- panel (a)
ax, ax2, ax3 = make_panel(237, 838)
ax3.plot(*xy(TROP_A), color="black", lw=2.0, ls=":")
ax2.plot(*xy(SOI), color=C_SOI, lw=2.4)
ax.plot(*xy(OSLO_A), color=C_OSLO, lw=2.4)
ax.plot(*xy(TOMS_A), color=C_TOMS, lw=2.4)
ax.plot(*xy(GTO_A), color=C_GTO, lw=2.4)
ax.plot(*xy(GOME_A), color=C_GOME, lw=3.8)
ax.text(2001.57, 6.43, R_TEXT[0], color="#1818ff", fontsize=27,
        family="Liberation Serif", math_fontfamily="stix", va="center", ha="left")
ax.text(2004.71, -6.48, DIFF_TEXT[0], color="#ff1010", fontsize=27,
        family="Liberation Serif", va="center", ha="left")

fig.text(fx(625), fy(46), TITLE_A, ha="center", va="center", fontsize=27,
         fontweight="bold")
legend([h_gome, h_gto, h_toms],
       ["Ozone (GOME-2A)", "Ozone (GTO-ECV)", "Ozone (TOMS–OMI–OMPS)"], 144, 79)
legend([h_oslo, h_soi, h_trop],
       ["Ozone (Oslo CTM3)", "SOI", "Tropopause (NCEP)"], 754, 79)

# ---------------------------------------------------------------- panel (b)
bx, bx2, bx3 = make_panel(1229, 1829)
bx3.plot(*xy(TROP_B), color="black", lw=2.0, ls=":")
bx2.plot(*xy(SOI), color=C_SOI, lw=2.4)
bx.plot(*xy(SBUV_B), color=C_TOMS, lw=2.4)
bx.plot(*xy(GTO_B), color=C_GTO, lw=2.4)
bx.plot(*xy(GOME_B), color=C_GOME, lw=3.8)
for seg in (GROUND_1, GROUND_2, GROUND_3):
    bx.plot(*xy(seg), color=C_GROUND, lw=2.4, marker="o", markersize=4.5)
bx.text(2001.57, 6.69, R_TEXT[1], color="#1818ff", fontsize=27,
        family="Liberation Serif", math_fontfamily="stix", va="center", ha="left")
bx.text(2004.71, -6.53, DIFF_TEXT[1], color="#ff1010", fontsize=27,
        family="Liberation Serif", va="center", ha="left")

fig.text(fx(627), fy(1039), TITLE_B, ha="center", va="center", fontsize=27,
         fontweight="bold")
legend([h_gome, h_gto, h_toms],
       ["Ozone (GOME-2A)", "Ozone (GTO-ECV)", "Ozone (SBUV overpass)"], 144, 1073)
legend([h_ground, h_soi, h_trop],
       ["Ozone (ground-based)", "SOI", "Tropopause (NCEP)"], 650, 1073)

fig.savefig("out.png", dpi=100, facecolor="white")
